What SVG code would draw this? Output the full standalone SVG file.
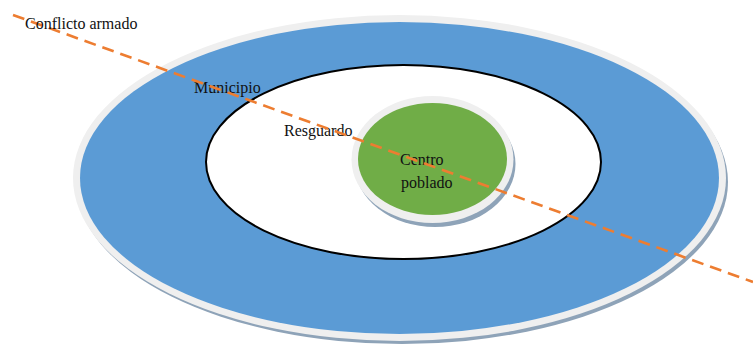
<svg xmlns="http://www.w3.org/2000/svg" width="753" height="348" viewBox="0 0 753 348">
  <style>
    .lbl { font-family: "Liberation Serif", "Times New Roman", serif; font-size: 16px; fill: #111; }
    .rim { fill: #efefef; }
    .shadow { fill: #8ea3b8; }
    .conflict { fill: none; stroke: #ed7d31; stroke-width: 2.6; stroke-dasharray: 12 7; }
  </style>
  <rect width="753" height="348" fill="#ffffff"/>

  <g id="municipio">
    <ellipse class="shadow" cx="402" cy="182" rx="326" ry="162"/>
    <ellipse class="rim" cx="399.5" cy="178" rx="326.5" ry="163"/>
    <ellipse cx="399.5" cy="178" rx="319.5" ry="156" fill="#5b9bd5"/>
    <text class="lbl" x="194" y="93">Municipio</text>
  </g>

  <g id="resguardo">
    <ellipse cx="403.5" cy="162" rx="197.5" ry="97" fill="#ffffff" stroke="#000000" stroke-width="2"/>
    <text class="lbl" x="284" y="136">Resguardo</text>
  </g>

  <g id="centro-poblado">
    <ellipse class="shadow" cx="435" cy="164" rx="80.5" ry="63"/>
    <ellipse class="rim" cx="432.5" cy="159.5" rx="81" ry="63.5"/>
    <ellipse cx="432.5" cy="159" rx="74.5" ry="56" fill="#70ad47"/>
    <text class="lbl" x="400" y="165">Centro</text>
    <text class="lbl" x="401" y="188">poblado</text>
  </g>

  <g id="connectors">
    <line class="conflict" x1="13" y1="15" x2="753" y2="282"/>
  </g>

  <g id="conflicto-armado">
    <text class="lbl" x="25" y="29">Conflicto armado</text>
  </g>
</svg>
